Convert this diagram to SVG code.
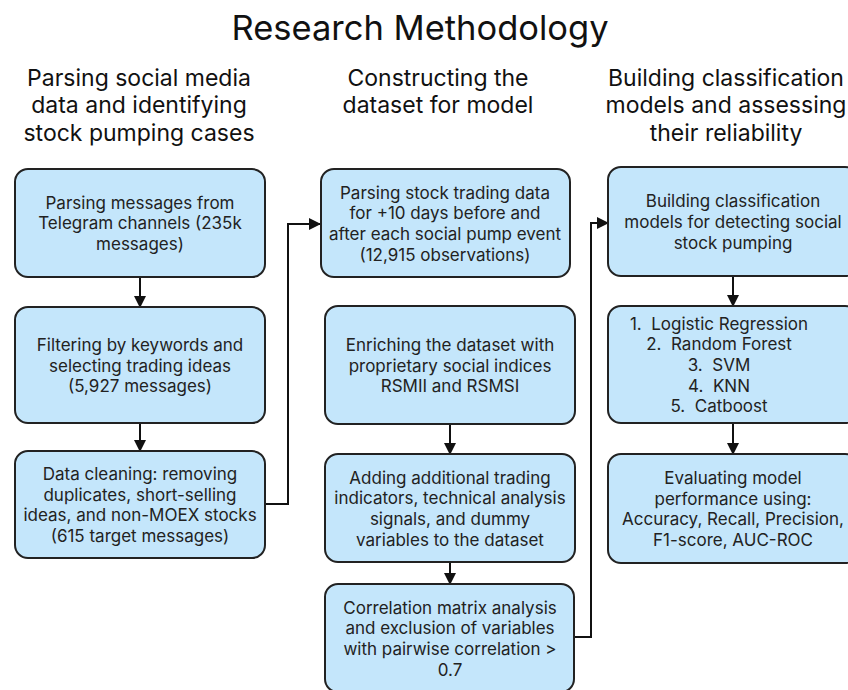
<svg xmlns="http://www.w3.org/2000/svg" width="848" height="690" viewBox="0 0 848 690">
<style>
  .box { fill: #c4e6fb; stroke: #222222; stroke-width: 2; }
  .t { font-family: Inter, "Liberation Sans", sans-serif; font-size: 17px; fill: #222222; text-anchor: middle; }
  .h { font-family: Inter, "Liberation Sans", sans-serif; font-size: 23px; fill: #111111; text-anchor: middle; }
  .title { font-family: Inter, "Liberation Sans", sans-serif; font-size: 34.5px; fill: #111111; text-anchor: middle; }
  .c { fill: none; stroke: #111111; stroke-width: 2; }
</style>
<defs>
  <marker id="arr" markerUnits="userSpaceOnUse" markerWidth="12" markerHeight="12" viewBox="0 0 12 12" refX="11" refY="6" orient="auto">
    <path d="M0,0 L12,6 L0,12 Z" fill="#111111"/>
  </marker>
</defs>
<rect width="848" height="690" fill="#ffffff"/>
<text class="title" x="420" y="40">Research Methodology</text>
<g id="headers">
  <text class="h" x="139" y="86">Parsing social media</text>
  <text class="h" x="139" y="113">data and identifying</text>
  <text class="h" x="139" y="141">stock pumping cases</text>
  <text class="h" x="438" y="86">Constructing the</text>
  <text class="h" x="438" y="113">dataset for model</text>
  <text class="h" x="726" y="86">Building classification</text>
  <text class="h" x="726" y="113">models and assessing</text>
  <text class="h" x="726" y="141">their reliability</text>
</g>
<g id="connectors">
  <line class="c" x1="140" y1="277" x2="140" y2="307" marker-end="url(#arr)"/>
  <line class="c" x1="140" y1="423" x2="140" y2="451" marker-end="url(#arr)"/>
  <path class="c" d="M265,504 H288 V224 H320" marker-end="url(#arr)"/>
  <line class="c" x1="450" y1="424" x2="450" y2="454" marker-end="url(#arr)"/>
  <line class="c" x1="450" y1="562" x2="450" y2="584" marker-end="url(#arr)"/>
  <path class="c" d="M574,637 H591 V223 H608" marker-end="url(#arr)"/>
  <line class="c" x1="733" y1="276" x2="733" y2="306" marker-end="url(#arr)"/>
  <line class="c" x1="733" y1="423" x2="733" y2="454" marker-end="url(#arr)"/>
</g>
<g id="n1">
  <rect class="box" x="15" y="169" width="250" height="108" rx="13"/>
  <text class="t" x="140" y="208.5">Parsing messages from</text>
  <text class="t" x="140" y="229">Telegram channels (235k</text>
  <text class="t" x="140" y="249.5">messages)</text>
</g>
<g id="n2">
  <rect class="box" x="15" y="307" width="250" height="116" rx="13"/>
  <text class="t" x="140" y="350.5">Filtering by keywords and</text>
  <text class="t" x="140" y="371.5">selecting trading ideas</text>
  <text class="t" x="140" y="392">(5,927 messages)</text>
</g>
<g id="n3">
  <rect class="box" x="15" y="451" width="250" height="107" rx="13"/>
  <text class="t" x="140" y="479.5">Data cleaning: removing</text>
  <text class="t" x="140" y="500.5">duplicates, short-selling</text>
  <text class="t" x="140" y="521">ideas, and non-MOEX stocks</text>
  <text class="t" x="140" y="541.5">(615 target messages)</text>
</g>
<g id="n4">
  <rect class="box" x="321" y="169" width="249" height="108" rx="13"/>
  <text class="t" x="445" y="198.5">Parsing stock trading data</text>
  <text class="t" x="445" y="219">for +10 days before and</text>
  <text class="t" x="445" y="239.5">after each social pump event</text>
  <text class="t" x="445" y="260.5">(12,915 observations)</text>
</g>
<g id="n5">
  <rect class="box" x="325" y="306" width="250" height="118" rx="13"/>
  <text class="t" x="450" y="350.5">Enriching the dataset with</text>
  <text class="t" x="450" y="371.5">proprietary social indices</text>
  <text class="t" x="450" y="392">RSMII and RSMSI</text>
</g>
<g id="n6">
  <rect class="box" x="325" y="454" width="250" height="108" rx="13"/>
  <text class="t" x="450" y="483.5">Adding additional trading</text>
  <text class="t" x="450" y="504">indicators, technical analysis</text>
  <text class="t" x="450" y="524.5">signals, and dummy</text>
  <text class="t" x="450" y="545.5">variables to the dataset</text>
</g>
<g id="n7">
  <rect class="box" x="325" y="584" width="249" height="108" rx="13"/>
  <text class="t" x="450" y="613.5">Correlation matrix analysis</text>
  <text class="t" x="450" y="634">and exclusion of variables</text>
  <text class="t" x="450" y="654.5">with pairwise correlation &gt;</text>
  <text class="t" x="450" y="675.5">0.7</text>
</g>
<g id="n8">
  <rect class="box" x="608" y="167" width="250" height="109" rx="13"/>
  <text class="t" x="733" y="207">Building classification</text>
  <text class="t" x="733" y="227.5">models for detecting social</text>
  <text class="t" x="733" y="248.5">stock pumping</text>
</g>
<g id="n9">
  <rect class="box" x="608" y="306" width="250" height="117" rx="13"/>
  <text class="t" x="719" y="329.5">1.&#160; Logistic Regression</text>
  <text class="t" x="719" y="350">2.&#160; Random Forest</text>
  <text class="t" x="719" y="370.5">3.&#160; SVM</text>
  <text class="t" x="719" y="391.5">4.&#160; KNN</text>
  <text class="t" x="719" y="412">5.&#160; Catboost</text>
</g>
<g id="n10">
  <rect class="box" x="608" y="454" width="250" height="109" rx="13"/>
  <text class="t" x="733" y="483.5">Evaluating model</text>
  <text class="t" x="733" y="504.5">performance using:</text>
  <text class="t" x="733" y="525">Accuracy, Recall, Precision,</text>
  <text class="t" x="733" y="545.5">F1-score, AUC-ROC</text>
</g>
</svg>
